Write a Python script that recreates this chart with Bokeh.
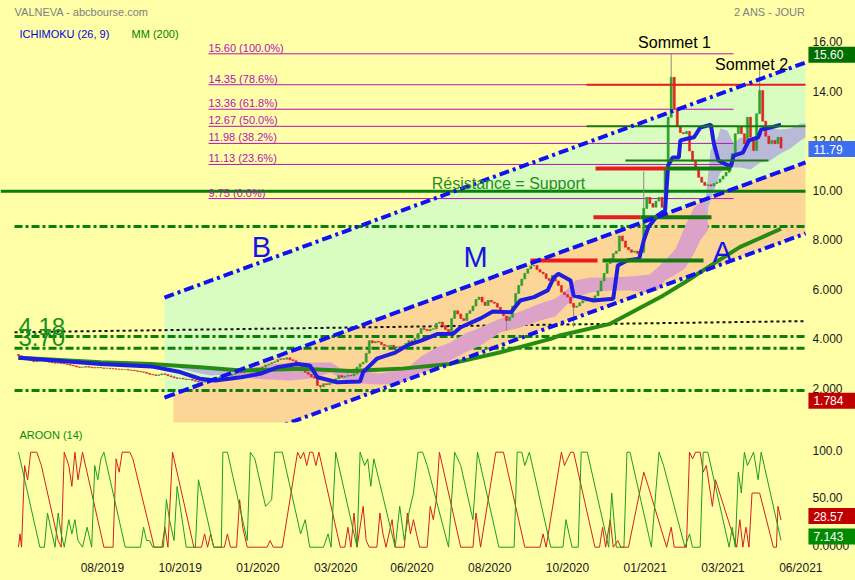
import numpy as np
from bokeh.plotting import figure
from bokeh.layouts import column
from bokeh.models import Range1d, FixedTicker, Label
from bokeh.core.properties import value
from bokeh.embed import file_html
from bokeh.resources import INLINE

BG = "#FFFFA8"
FONT = "Liberation Sans"

# ---------------- data ----------------
# closes sampled every 2 trading days (x = trading-day index = 2*k)
close = [3.40, 3.35, 3.30, 3.25, 3.20, 3.16, 3.18, 3.22, 3.20, 3.17,
         3.14, 3.12, 3.10, 3.11, 3.09, 3.07, 3.05, 3.02, 2.99, 2.95,
         2.93, 2.94, 2.97, 2.94, 2.92, 2.91, 2.93, 2.91, 2.89, 2.90,
         2.88, 2.87, 2.86, 2.85, 2.84, 2.84, 2.82, 2.81, 2.79, 2.77,
         2.75, 2.73, 2.69, 2.65, 2.63, 2.60, 2.63, 2.67, 2.64, 2.59,
         2.55, 2.51, 2.48, 2.49, 2.46, 2.44, 2.45, 2.41, 2.37, 2.34,
         2.33, 2.39, 2.44, 2.47, 2.51, 2.49, 2.55, 2.59, 2.63, 2.61,
         2.65, 2.69, 2.73, 2.71, 2.77, 2.81, 2.88, 2.85, 2.91, 2.89,
         2.95, 3.03, 3.07, 3.12, 3.16, 3.24, 3.28, 3.26, 3.32, 3.24,
         3.20, 3.12, 3.00, 2.81, 2.73, 2.65, 2.55, 2.49, 2.20, 2.15,
         2.27, 2.23, 2.29, 2.35, 2.47, 2.60, 2.53, 2.57, 2.61, 2.59,
         2.67, 2.94, 3.07, 3.14, 3.50, 4.01, 3.92, 3.98, 3.95, 3.85,
         3.80, 3.78, 3.82, 3.74, 3.76, 3.72, 3.80, 3.90, 4.01, 3.96,
         4.10, 4.30, 4.50, 4.46, 4.41, 4.47, 4.49, 4.71, 4.76, 4.62,
         4.46, 4.36, 4.91, 5.22, 5.09, 4.91, 4.82, 5.11, 5.22, 5.41,
         5.67, 5.77, 5.57, 5.43, 5.64, 5.57, 5.52, 5.36, 5.16, 5.01,
         4.82, 4.96, 5.41, 5.92, 6.24, 6.50, 6.73, 6.91, 7.03, 7.05,
         6.88, 6.78, 6.71, 6.52, 6.44, 6.64, 6.42, 6.24, 5.97, 5.87,
         5.77, 5.52, 5.36, 5.41, 5.54, 5.62, 5.62, 5.72, 5.67, 5.82,
         6.02, 6.42, 6.73, 7.13, 7.33, 7.53, 7.63, 8.24, 8.04, 7.78,
         7.68, 7.58, 7.63, 7.53, 7.58, 9.35, 9.80, 9.55, 9.40, 9.65,
         9.80, 9.40, 11.02, 13.04, 14.65, 13.38, 12.68, 12.42, 12.37, 12.47,
         11.67, 11.26, 10.96, 10.61, 10.41, 10.28, 10.31, 10.26, 10.36, 10.41,
         10.54, 10.66, 10.81, 11.15, 11.57, 12.37, 12.64, 12.37, 11.96, 13.04,
         12.23, 11.69, 13.18, 14.12, 12.88, 12.27, 11.97, 12.10, 11.97, 12.23,
         11.79]
first_open = 3.45
spike_high_k = [214, 243, 205]
spike_high_v = [15.60, 14.93, 10.85]
spike_low_k = [99, 160, 182]
spike_low_v = [2.00, 4.42, 4.55]

# MM 200 (index, price)
mm200_x = [0, 54, 87, 119, 146, 185, 218, 250, 283, 316, 349, 355, 388, 421, 437, 454, 473, 500]
mm200_y = [3.32, 3.14, 3.07, 2.94, 2.80, 2.87, 2.78, 2.87, 3.07, 3.54, 4.08, 4.22, 4.69, 5.77, 6.37, 7.05, 7.79, 8.53]

# Ichimoku kijun (index, price)
kijun_x = [0, 54, 87, 106, 119, 129, 146, 159, 170, 183, 191, 196, 209, 224, 226, 235, 247, 256,
           264, 275, 285, 290, 303, 311, 323, 329, 338, 347, 351, 354, 362, 364, 377, 390, 393,
           399, 407, 410, 413, 419, 424, 426, 429, 433, 434, 439, 443, 447, 454, 456, 459, 467,
           469, 475, 479, 485, 487, 493, 500]
kijun_y = [3.32, 3.07, 2.97, 2.74, 2.47, 2.40, 2.53, 2.68, 2.94, 3.07, 3.01, 2.53, 2.33, 2.36, 2.74,
           3.28, 3.53, 3.85, 4.01, 4.28, 4.29, 4.55, 4.91, 5.19, 5.16, 5.63, 5.77, 6.04, 6.56, 6.71,
           6.44, 5.83, 5.63, 5.70, 7.05, 7.25, 7.32, 8.06, 8.59, 9.07, 9.27, 11.09, 11.41, 11.41,
           12.10, 12.18, 12.23, 12.62, 12.74, 11.97, 11.29, 11.04, 11.49, 11.61, 12.10, 12.22,
           12.54, 12.62, 12.74]

# Ichimoku cloud pieces (index, upper, lower)
cloud_pink_x = [139, 152, 165, 178, 192, 205, 211, 224, 237, 250, 257, 264, 273, 283, 293, 303,
                310, 316, 329, 342, 352, 359, 365, 375, 388, 401, 414, 419, 424, 431, 437, 443,
                447, 452]
cloud_pink_hi = [2.76, 2.88, 3.05, 3.13, 3.13, 3.13, 2.88, 2.76, 2.68, 2.80, 3.01, 3.37, 3.69,
                 3.94, 4.30, 4.54, 4.74, 4.91, 5.19, 5.51, 5.71, 6.04, 6.44, 6.56, 6.56, 6.60,
                 6.68, 6.97, 7.25, 7.73, 8.62, 9.39, 9.59, 9.67]
cloud_pink_lo = [2.56, 2.48, 2.44, 2.40, 2.48, 2.72, 2.48, 2.28, 2.24, 2.28, 2.48, 2.72, 2.88,
                 3.21, 3.53, 3.81, 4.10, 4.34, 4.54, 4.82, 4.99, 5.43, 5.75, 5.96, 6.04, 6.04,
                 5.96, 6.04, 6.44, 6.68, 6.93, 7.53, 8.06, 8.46]
cloud_grey1_x = [106, 116, 126, 136, 146]
cloud_grey1_hi = [2.97, 3.01, 2.97, 2.88, 2.80]
cloud_grey1_lo = [2.88, 2.72, 2.60, 2.64, 2.72]
cloud_grey2_x = [450.5, 453.8, 458.4, 460.3, 464.9, 468.9, 473.4, 480, 486.6, 493.1, 499.7, 506.2, 512.8, 516]
cloud_grey2_hi = [9.67, 11.69, 12.22, 12.58, 12.50, 11.97, 12.22, 12.10, 12.38, 12.58, 12.54, 12.58, 12.78, 12.78]
cloud_grey2_lo = [9.07, 9.67, 10.48, 10.80, 10.96, 11.01, 11.01, 10.93, 11.21, 11.29, 11.57, 11.77, 12.10, 12.22]

# trend channel (index, price) : B upper, M middle, A lower
chan_x = [95.7, 516.07]
chan_B = [5.75, 15.25]
chan_M = [1.71, 11.21]
chanA_x = [101.6, 516.07]
chan_A = [-1.03, 8.34]

# horizontal levels
dashdot_levels = [8.62, 4.18, 3.70, 2.00]
support_level = 10.05
fib_levels = [15.60, 14.35, 13.36, 12.67, 11.98, 11.13, 9.75]
fib_pct = ["100.0%", "78.6%", "61.8%", "50.0%", "38.2%", "23.6%", "0.0%"]
fib_x = [124.6, 468.9]
dotted_x = [-2.6, 516.07]
dotted_y = [4.35, 4.80]

# short support / resistance markers
mark_x0 = [372.5, 372.5, 398.0, 378.4, 424.3, 377.0, 407.9, 335.7, 383.0]
mark_x1 = [516.07, 516.07, 491.8, 424.3, 467.5, 407.9, 454.4, 379.7, 449.2]
mark_lvl = [14.35, 12.67, 11.29, 10.97, 10.97, 9.00, 9.00, 7.25, 7.25]
mark_kind = ["r", "g", "g", "r", "g", "r", "g", "r", "g"]
mark_w = [2, 2, 2, 4, 4, 4, 4, 4, 4]

# Aroon (14) vertices (index, value)
aroon_up = [(0, 100), (14, 0), (17, 0), (19, 36), (21, 21), (24, 0), (26, 36), (28, 14), (30, 0),
            (33, 29), (35, 14), (37, 29), (39, 7), (42, 0), (45, 21), (48, 0), (50, 86), (52, 71),
            (54, 93), (56, 100), (70, 0), (80, 0), (82, 21), (84, 7), (86, 7), (88, 0), (95, 0),
            (97, 50), (99, 29), (102, 7), (104, 64), (106, 43), (110, 0), (116, 0), (118, 71),
            (121, 50), (128, 0), (133, 0), (134, 100), (137, 100), (150, 7), (152, 100), (155, 93),
            (162, 43), (166, 50), (168, 100), (173, 100), (185, 14), (188, 29), (191, 0), (200, 0),
            (203, 14), (205, 0), (208, 100), (222, 0), (224, 100), (227, 86), (229, 93), (231, 64),
            (233, 93), (247, 0), (250, 43), (253, 7), (256, 36), (259, 57), (262, 100), (265, 100),
            (268, 86), (282, 0), (286, 100), (290, 86), (298, 29), (301, 100), (315, 0), (325, 0),
            (327, 100), (330, 100), (332, 86), (335, 100), (349, 0), (357, 0), (359, 29), (361, 14),
            (363, 0), (367, 0), (369, 100), (373, 100), (387, 0), (389, 57), (392, 0), (397, 0),
            (399, 100), (401, 100), (415, 0), (420, 100), (423, 86), (437, 0), (440, 14), (442, 0),
            (447, 0), (449, 100), (452, 100), (466, 0), (468, 21), (470, 0), (472, 79), (474, 57),
            (476, 100), (478, 86), (480, 93), (482, 100), (485, 71), (487, 100), (500, 7.143)]
aroon_down = [(0, 0), (1, 14), (2, 0), (4, 86), (6, 71), (8, 100), (12, 100), (15, 86), (26, 7),
              (28, 0), (30, 100), (33, 86), (35, 64), (37, 100), (39, 71), (42, 100), (56, 0),
              (62, 0), (64, 93), (66, 79), (68, 100), (73, 100), (75, 93), (89, 0), (94, 0),
              (96, 21), (98, 0), (101, 100), (115, 0), (120, 0), (122, 14), (124, 0), (126, 14),
              (128, 0), (135, 0), (137, 14), (139, 0), (143, 0), (145, 50), (147, 21), (150, 0),
              (163, 0), (165, 7), (167, 0), (173, 0), (183, 100), (185, 93), (187, 100), (189, 86),
              (191, 100), (193, 100), (195, 86), (197, 100), (211, 0), (214, 0), (216, 21), (218, 0),
              (220, 36), (222, 0), (226, 43), (228, 7), (230, 0), (235, 0), (237, 36), (239, 14),
              (241, 0), (245, 29), (247, 0), (253, 0), (255, 36), (257, 14), (259, 29), (261, 14),
              (263, 0), (268, 0), (270, 43), (272, 29), (274, 50), (276, 100), (290, 0), (298, 0),
              (300, 36), (303, 0), (313, 100), (318, 100), (332, 0), (342, 0), (344, 14), (346, 0),
              (356, 100), (358, 86), (360, 93), (362, 100), (364, 100), (378, 0), (381, 0),
              (383, 21), (385, 0), (388, 29), (390, 0), (393, 7), (395, 0), (400, 0), (410, 79),
              (413, 64), (425, 0), (428, 21), (430, 0), (438, 0), (440, 100), (442, 93), (444, 100),
              (447, 100), (449, 79), (451, 86), (455, 43), (457, 71), (471, 0), (473, 29), (475, 0),
              (477, 21), (479, 0), (481, 57), (486, 57), (495, 0), (497, 0), (498, 43), (500, 28.57)]

tick_idx = [55, 106, 157, 208, 258, 309, 360, 411, 462, 513]
tick_lab = ["08/2019", "10/2019", "01/2020", "03/2020", "06/2020",
            "08/2020", "10/2020", "01/2021", "03/2021", "06/2021"]
price_ticks = [2, 4, 6, 8, 10, 12, 14, 16]
price_tick_lab = ["2.000", "4.000", "6.000", "8.000", "10.00", "12.00", "14.00", "16.00"]
aroon_ticks = [0, 50, 100]
aroon_tick_lab = ["0.0000", "50.00", "100.0"]

price_boxes = [15.60, 11.79, 1.784]
price_box_lab = ["15.60", "11.79", "1.784"]
price_box_col = ["#006E00", "#3C6EF0", "#C00000"]
aroon_boxes = [28.57, 7.143]
aroon_box_lab = ["28.57", "7.143"]
aroon_box_col = ["#C00000", "#008A00"]

# ---------------- layout / style constants ----------------
X0, X1 = -11.80, 548.85      # whole canvas width
XEND = 516.07                # right end of the drawing area
XLAB = 520.66                # scale labels
XBOX = 533.4                 # centre of value boxes
PRICE_PX_PER_UNIT = 24.75
AROON_PX_PER_UNIT = 0.95
price_box_shift_px = [-1, -1, -5]    # negative = drawn lower
aroon_box_shift_px = [4, 4]

def lab(fig, x, y, t, size, color, align="left", base="middle"):
    fig.add_layout(Label(x=x, y=y, text=t, text_font=FONT, text_font_size=size,
                         text_color=color, text_align=align, text_baseline=base))

def scale_labels(fig, ticks, labels, boxes, box_labels, box_cols, shifts, ppu):
    fig.text(x=[XLAB] * len(ticks), y=ticks, text=labels, text_font=value(FONT),
             text_font_size="12px", text_color="#1a1a1a", text_baseline="middle",
             y_offset=-2)
    by = [b + s / ppu for b, s in zip(boxes, shifts)]
    fig.rect(x=[XBOX] * len(boxes), y=by, width=47, height=16, width_units="screen",
             height_units="screen", fill_color=box_cols, line_color=None)
    fig.text(x=[XLAB + 0.6] * len(boxes), y=by, text=box_labels, text_font=value(FONT),
             text_font_size="12px", text_color="white", text_baseline="middle")

# ---------------- main price figure ----------------
p = figure(frame_width=855, frame_height=422,
           x_range=Range1d(X0, X1), y_range=Range1d(0.703, 17.754),
           output_backend="svg", toolbar_location=None,
           x_axis_type=None, y_axis_type=None,
           min_border_left=0, min_border_top=0, min_border_bottom=3, min_border_right=0,
           background_fill_color=BG, border_fill_color=BG, outline_line_color=None)
p.grid.visible = False

# channel fills
p.patch([chan_x[0], chan_x[1], chan_x[1], chan_x[0]],
        [chan_B[0], chan_B[1], chan_M[1], chan_M[0]],
        fill_color="#D9FCC0", line_color=None)
mA0 = float(np.interp(chanA_x[0], chan_x, chan_M))
p.patch([chanA_x[0], chanA_x[1], chanA_x[1], chanA_x[0]],
        [mA0, chan_M[1], chan_A[1], chan_A[0]],
        fill_color="#FCD697", line_color=None)

# dash-dot green levels
for lv in dashdot_levels:
    p.line([-2.6, XEND], [lv, lv], line_color="#0B7F0B", line_width=3, line_dash="8 3 3 3")

# black dashed
p.line(dotted_x, dotted_y, line_color="#111111", line_width=2, line_dash="3 3")

# ichimoku cloud
p.varea(x=cloud_pink_x, y1=cloud_pink_lo, y2=cloud_pink_hi, fill_color="#DCA2C8")
p.varea(x=cloud_grey1_x, y1=cloud_grey1_lo, y2=cloud_grey1_hi, fill_color="#B8BAD8")
p.varea(x=cloud_grey2_x, y1=cloud_grey2_lo, y2=cloud_grey2_hi, fill_color="#B8BAD8")

# fibonacci
FIB = "#B414B4"
for f, pct in zip(fib_levels, fib_pct):
    p.line(fib_x, [f, f], line_color=FIB, line_width=1)
    lab(p, fib_x[0], f, f"{f:.2f}  ({pct})", "11px", FIB, base="bottom")

# support line
p.line([X0, XEND], [support_level, support_level], line_color="#0A7D0A", line_width=3)

# candles
c = np.array(close)
o = np.r_[first_open, c[:-1]]
hi = np.maximum(o, c)
lo = np.minimum(o, c)
for kk, v in zip(spike_high_k, spike_high_v):
    hi[kk] = max(hi[kk], v)
for kk, v in zip(spike_low_k, spike_low_v):
    lo[kk] = min(lo[kk], v)
xs = 2 * np.arange(len(c))
cols = np.where(c >= o, "#2EA02E", "#E02424")
p.segment(xs, hi, xs, lo, line_color="#8A8A8A", line_width=1)
p.vbar(x=xs, width=1.4, top=np.maximum(o, c), bottom=np.minimum(o, c),
       fill_color=list(cols), line_color=list(cols), line_width=0.5)

# MM200 and kijun
p.line(mm200_x, mm200_y, line_color="#268A14", line_width=4)
p.line(kijun_x, kijun_y, line_color="#1E1EE0", line_width=4)

# markers
for x0, x1, lv, kd, w in zip(mark_x0, mark_x1, mark_lvl, mark_kind, mark_w):
    p.line([x0, x1], [lv, lv], line_color="#E81E1E" if kd == "r" else "#167A10", line_width=w)

# channel lines
BLUE = "#1212EE"
p.line(chan_x, chan_B, line_color=BLUE, line_width=4, line_dash="10 4 3 4")
p.line(chan_x, chan_M, line_color=BLUE, line_width=4, line_dash="11 4")
p.line(chanA_x, chan_A, line_color=BLUE, line_width=4, line_dash="10 4 3 4")

lab(p, -2.6, 17.28, "VALNEVA - abcbourse.com", "11px", "#808080", base="alphabetic")
lab(p, XEND, 17.28, "2 ANS - JOUR", "11px", "#808080", align="right", base="alphabetic")
lab(p, 0.66, 16.41, "ICHIMOKU (26, 9)", "11px", "#0000E0", base="alphabetic")
lab(p, 74.1, 16.41, "MM (200)", "11px", "#008000", base="alphabetic")
lab(p, 321.3, 10.37, "Résistance = Support", "16px", "#1E8F1E", align="center")
lab(p, 430.2, 16.06, "Sommet 1", "16px", "#000000", align="center")
lab(p, 480.7, 15.17, "Sommet 2", "16px", "#000000", align="center")
lab(p, 159.3, 7.81, "B", "29px", "#1414E6", align="center")
lab(p, 299.7, 7.37, "M", "29px", "#1414E6", align="center")
lab(p, 461.6, 7.61, "A", "29px", "#1414E6", align="center")
lab(p, 0, 4.60, "4.18", "24px", "#16901A")
lab(p, 0, 4.12, "3.70", "24px", "#16901A")

scale_labels(p, price_ticks, price_tick_lab, price_boxes, price_box_lab, price_box_col,
             price_box_shift_px, PRICE_PX_PER_UNIT)

# ---------------- Aroon figure ----------------
q = figure(frame_width=855, frame_height=131, x_range=p.x_range, y_range=Range1d(-9.79, 128.1),
           output_backend="svg", toolbar_location=None, y_axis_type=None,
           min_border_left=0, min_border_top=0, min_border_bottom=22, min_border_right=0,
           background_fill_color=BG, border_fill_color=BG, outline_line_color=None)
q.grid.visible = False
xa = q.xaxis[0]
xa.ticker = FixedTicker(ticks=tick_idx)
xa.major_label_overrides = dict(zip(tick_idx, tick_lab))
xa.axis_line_color = None
xa.major_tick_line_color = None
xa.minor_tick_line_color = None
xa.major_tick_out = 0
xa.major_tick_in = 0
xa.minor_tick_out = 0
xa.minor_tick_in = 0
xa.major_label_text_font = FONT
xa.major_label_text_font_size = "12px"
xa.major_label_text_color = "#1a1a1a"
xa.major_label_standoff = 4

ux, uv = zip(*aroon_up)
dx, dv = zip(*aroon_down)
q.line(list(dx), list(dv), line_color="#D42020", line_width=1)
q.line(list(ux), list(uv), line_color="#1E9E1E", line_width=1)
lab(q, 0.66, 117.6, "AROON (14)", "11px", "#0A8A0A")
scale_labels(q, aroon_ticks, aroon_tick_lab, aroon_boxes, aroon_box_lab, aroon_box_col,
             aroon_box_shift_px, AROON_PX_PER_UNIT)

layout = column(p, q, spacing=0)
html = file_html(layout, INLINE, title="VALNEVA")
html = html.replace("</head>", "<style>html,body{background:%s;}</style></head>" % BG, 1)
open("out.html", "w").write(html)
